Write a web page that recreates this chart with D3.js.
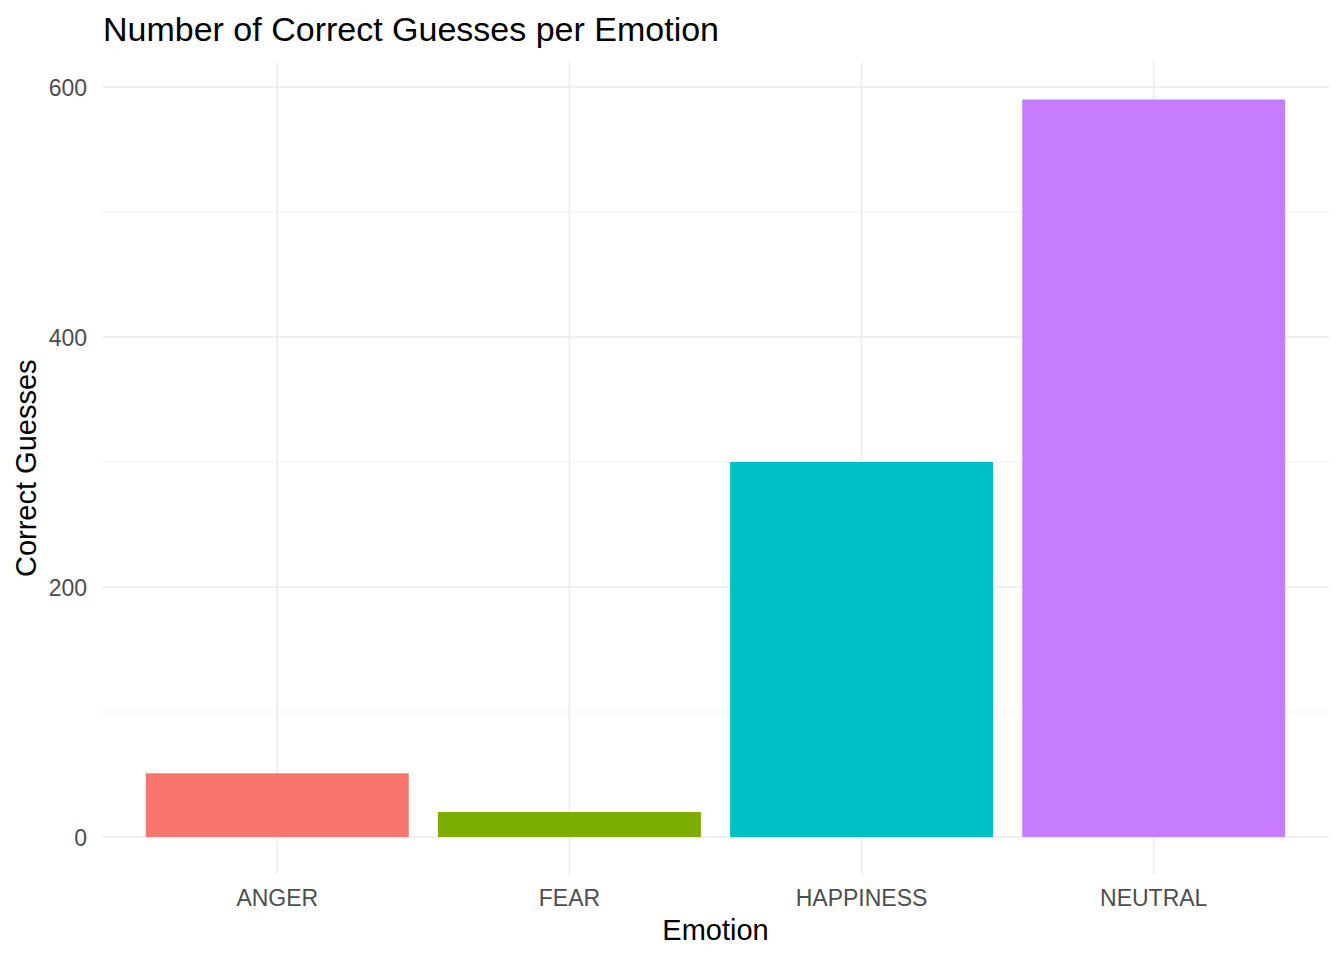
<!DOCTYPE html>
<html>
<head>
<meta charset="utf-8">
<script src="https://cdn.jsdelivr.net/npm/d3@7"></script>
<style>
html,body{margin:0;padding:0;background:#fff;}
svg{display:block;font-family:"Liberation Sans",Arial,sans-serif;}
</style>
</head>
<body>
<svg id="chart" width="1344" height="960"></svg>
<script>
const categories = ["ANGER", "FEAR", "HAPPINESS", "NEUTRAL"];
const values = [51, 20, 300, 590];
const colors = ["#F8766D", "#7CAE00", "#00BFC4", "#C77CFF"];
const yTicks = [0, 200, 400, 600];
const yMinorTicks = [100, 300, 500];
const titleText = "Number of Correct Guesses per Emotion";
const xTitle = "Emotion";
const yTitle = "Correct Guesses";

const svg = d3.select("#chart");
const panel = {left: 102, right: 1329, top: 62.6, bottom: 873.9};

const yMax = d3.max(values);
const yExp = yMax * 0.05;
const y = d3.scaleLinear().domain([0 - yExp, yMax + yExp]).range([panel.bottom, panel.top]);

const n = categories.length;
const x = d3.scaleLinear().domain([-0.6, n - 1 + 0.6]).range([panel.left, panel.right]);
const step = x(1) - x(0);
const barW = step * 0.9;

const grid = svg.append("g");
grid.selectAll("line.minor").data(yMinorTicks).join("line")
  .attr("x1", panel.left).attr("x2", panel.right)
  .attr("y1", d => y(d)).attr("y2", d => y(d))
  .attr("stroke", "#EBEBEB").attr("stroke-width", 0.8);
grid.selectAll("line.major").data(yTicks).join("line")
  .attr("x1", panel.left).attr("x2", panel.right)
  .attr("y1", d => y(d)).attr("y2", d => y(d))
  .attr("stroke", "#EBEBEB").attr("stroke-width", 1.6);
grid.selectAll("line.vert").data(categories).join("line")
  .attr("x1", (d, i) => x(i)).attr("x2", (d, i) => x(i))
  .attr("y1", panel.top).attr("y2", panel.bottom)
  .attr("stroke", "#EBEBEB").attr("stroke-width", 1.6);

svg.append("g").selectAll("rect").data(values).join("rect")
  .attr("x", (d, i) => x(i) - barW / 2)
  .attr("width", barW)
  .attr("y", d => y(d))
  .attr("height", d => y(0) - y(d))
  .attr("fill", (d, i) => colors[i]);

svg.append("g").selectAll("text").data(yTicks).join("text")
  .attr("x", panel.left - 15)
  .attr("y", d => y(d))
  .attr("dy", "0.38em")
  .attr("text-anchor", "end")
  .attr("font-size", 23)
  .attr("fill", "#4D4D4D")
  .text(d => d);

svg.append("g").selectAll("text").data(categories).join("text")
  .attr("x", (d, i) => x(i))
  .attr("y", 905.5)
  .attr("text-anchor", "middle")
  .attr("font-size", 23)
  .attr("fill", "#4D4D4D")
  .text(d => d);

svg.append("text")
  .attr("x", (panel.left + panel.right) / 2)
  .attr("y", 940)
  .attr("text-anchor", "middle")
  .attr("font-size", 29)
  .attr("fill", "#000")
  .text(xTitle);

svg.append("text")
  .attr("transform", `translate(36,${(panel.top + panel.bottom) / 2}) rotate(-90)`)
  .attr("text-anchor", "middle")
  .attr("font-size", 29)
  .attr("fill", "#000")
  .text(yTitle);

svg.append("text")
  .attr("x", 103)
  .attr("y", 41)
  .attr("font-size", 34)
  .attr("fill", "#000")
  .text(titleText);
</script>
</body>
</html>
